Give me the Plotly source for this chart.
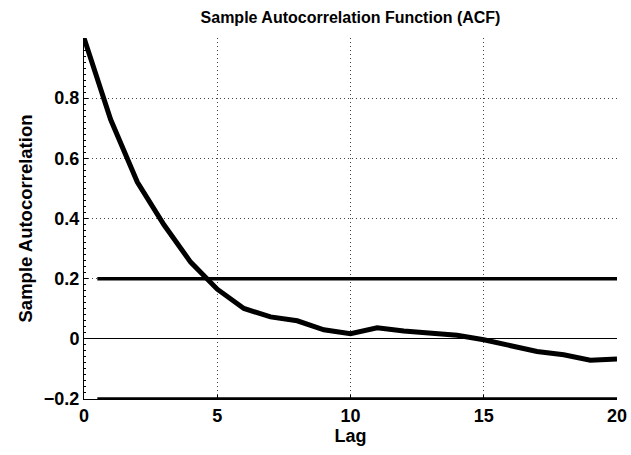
import plotly.graph_objects as go

# Data
lags = list(range(0, 21))
acf = [1.0, 0.729, 0.521, 0.379, 0.255, 0.165, 0.101, 0.073, 0.060, 0.030,
       0.017, 0.037, 0.026, 0.018, 0.012, -0.003, -0.021, -0.042, -0.053, -0.071, -0.067]
bound_value = 0.2
bound_x = [0.5, 20]
x_ticks = [0, 5, 10, 15, 20]
y_ticks = [-0.2, 0, 0.2, 0.4, 0.6, 0.8]
y_tick_labels = ["\u22120.2", "0", "0.2", "0.4", "0.6", "0.8"]

FONT = "Liberation Sans, Arial, Helvetica, sans-serif"
GRID = dict(showgrid=True, gridcolor="#444444", griddash="1px,3px", gridwidth=1)

fig = go.Figure()
fig.add_trace(go.Scatter(x=lags, y=acf, mode="lines",
                         line=dict(color="black", width=5), showlegend=False))
fig.add_trace(go.Scatter(x=bound_x, y=[bound_value, bound_value], mode="lines",
                         line=dict(color="black", width=3.5), showlegend=False))
fig.add_trace(go.Scatter(x=bound_x, y=[-bound_value, -bound_value], mode="lines",
                         line=dict(color="black", width=3.5), showlegend=False))

fig.update_layout(
    width=631, height=455,
    margin=dict(l=84, r=14, t=38, b=56, autoexpand=False),
    paper_bgcolor="white", plot_bgcolor="white",
    font=dict(family=FONT, color="black"),
    title=dict(text="<b>Sample Autocorrelation Function (ACF)</b>",
               x=(84 + 617) / 2 / 631, xanchor="center", y=1 - 17 / 455, yanchor="middle",
               font=dict(size=16, family=FONT, color="black")),
    xaxis=dict(
        range=[0, 20], tickvals=x_ticks, ticktext=[f"<b>{v}</b>" for v in x_ticks],
        tickfont=dict(size=18, family=FONT, color="black"),
        showline=True, linecolor="black", linewidth=1,
        ticks="inside", ticklen=4, tickcolor="black",
        zeroline=False, automargin=False,
        title=dict(text="<b>Lag</b>", font=dict(size=18, family=FONT, color="black"), standoff=0),
        **GRID,
    ),
    yaxis=dict(
        range=[-0.2, 1], tickvals=y_ticks, ticktext=[f"<b>{t}</b>" for t in y_tick_labels],
        tickfont=dict(size=18, family=FONT, color="black"),
        showline=True, linecolor="black", linewidth=1,
        ticks="inside", ticklen=4, tickcolor="black",
        minor=dict(ticks="inside", ticklen=2, tickcolor="black", dtick=0.02, showgrid=False),
        zeroline=True, zerolinecolor="black", zerolinewidth=1, automargin=False,
        title=dict(text="<b>Sample Autocorrelation</b>", font=dict(size=18.5, family=FONT, color="black"), standoff=6),
        **GRID,
    ),
)

fig.write_html("out.html")
